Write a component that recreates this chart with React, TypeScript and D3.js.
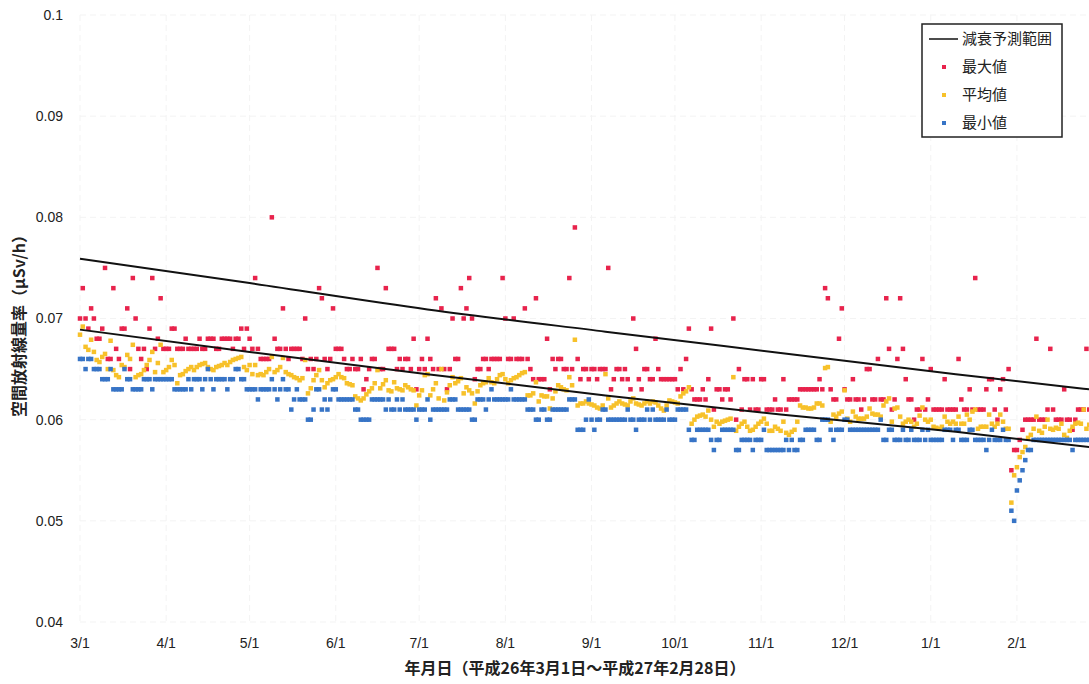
import React from "react";
import * as d3 from "d3";

// daily values, Mar 1 2014 .. Feb 28 2015 (max/min in 0.001 µSv/h, avg in 0.0001 µSv/h)
const MAX = [
  70,73,70,69,71,70,68,68,69,75, 66,66,73,67,66,69,69,71,65,74,
  70,67,66,67,65,69,74,67,68,72, 67,67,67,69,69,67,67,67,68,67,
  67,67,67,68,67,67,68,68,68,67, 67,68,68,68,68,67,68,68,69,67,
  69,68,67,74,67,66,66,66,66,80, 68,67,67,71,67,66,67,67,67,67,
  66,70,65,66,65,66,73,72,66,65, 66,71,67,67,67,66,65,65,66,65,
  65,66,63,64,65,66,66,75,65,65, 73,67,67,67,65,66,65,66,66,65,
  68,63,65,66,65,68,66,65,72,65, 71,65,63,65,70,66,66,73,70,71,
  74,70,64,65,65,66,66,65,66,66, 66,66,74,70,66,66,70,66,66,66,
  71,66,65,64,72,64,64,64,68,63, 66,65,66,66,65,65,74,65,79,66,
  64,65,65,64,65,65,64,65,65,65, 75,63,64,65,65,64,65,64,63,70,
  67,64,63,65,65,64,64,68,65,64, 64,64,64,64,64,63,65,63,66,69,
  63,62,62,62,63,62,64,69,61,63, 63,62,63,63,62,70,60,65,61,64,
  64,61,64,61,61,64,64,61,61,61, 62,61,61,64,61,62,62,62,62,63,
  63,63,63,63,63,63,64,63,73,72, 63,62,62,68,71,63,62,62,64,62,
  62,61,62,65,65,62,62,66,62,62, 72,67,61,62,66,72,67,64,62,62,
  60,61,61,66,61,62,65,61,61,61, 61,64,61,61,61,61,66,62,61,61,
  63,61,74,61,61,61,63,64,64,61, 60,63,64,61,65,55,57,57,58,59,
  60,60,60,60,68,60,60,60,61,67, 61,60,60,60,63,60,60,59,60,61,
  61,61,67,61,61,
];

const AVG = [
  684,692,672,669,679,667,659,657,662,665, 650,678,649,644,642,654,652,664,660,674,
  642,644,645,649,654,659,667,647,656,674, 647,649,652,659,654,636,644,645,648,650,
  652,649,652,654,655,656,652,650,649,652, 653,654,656,654,657,659,660,661,662,652,
  649,654,645,654,644,645,644,647,650,662, 647,649,652,661,647,645,644,642,641,639,
  641,659,626,631,639,644,649,639,632,636, 639,640,642,645,642,641,636,635,634,623,
  621,619,621,625,628,631,636,649,631,635, 639,629,628,637,631,630,629,634,632,630,
  629,614,624,629,644,645,624,630,636,621, 650,619,627,634,642,636,638,641,626,632,
  629,626,616,628,634,636,637,641,637,636, 640,644,645,640,636,639,641,642,644,646,
  647,624,624,626,637,618,624,623,623,611, 621,628,634,632,630,629,642,634,679,614,
  616,616,618,616,615,614,612,611,614,645, 621,612,614,616,618,616,615,614,618,621,
  616,615,614,616,618,616,618,617,614,611, 609,614,619,618,617,616,623,626,628,632,
  596,600,603,604,605,603,609,600,593,598, 596,598,599,600,601,642,589,593,596,598,
  593,589,590,593,596,598,601,596,589,589, 593,591,589,598,587,585,588,590,598,614,
  612,612,611,611,612,616,616,614,651,652, 598,605,603,606,608,629,601,598,608,603,
  601,601,601,603,611,606,605,605,603,614, 618,621,598,611,612,603,596,598,600,598,
  593,596,604,612,600,598,600,593,592,591, 593,603,598,596,598,596,603,596,596,605,
  600,608,610,591,593,593,593,605,596,593, 596,605,598,591,591,518,545,553,563,568,
  573,582,585,591,603,589,587,593,600,591, 590,592,591,596,585,582,589,593,596,597,
  596,610,591,595,598,
];

const MIN = [
  66,66,65,66,66,65,65,65,64,64, 64,65,63,63,63,63,65,64,64,63,
  63,63,63,64,64,64,63,64,64,64, 64,64,64,64,63,63,63,63,63,64,
  63,64,64,64,63,64,65,64,63,64, 64,64,64,63,64,64,65,65,64,64,
  63,63,63,63,62,63,63,63,63,64, 63,62,63,64,63,63,61,62,63,62,
  62,62,60,60,61,63,63,61,62,61, 62,63,63,62,62,62,62,62,62,61,
  61,60,60,60,60,62,62,62,62,62, 61,62,61,61,62,61,62,61,61,61,
  61,60,61,61,61,62,60,61,61,61, 61,61,61,62,62,62,61,61,61,61,
  61,60,60,62,62,62,61,62,63,62, 62,62,62,62,62,63,62,62,62,62,
  62,61,61,61,60,60,61,61,60,60, 61,61,61,61,61,61,62,62,62,59,
  59,59,60,62,60,59,60,60,61,61, 60,60,60,60,60,60,60,61,60,60,
  59,60,60,60,61,60,61,60,60,60, 60,61,60,60,60,61,61,61,61,59,
  58,58,59,59,59,59,59,58,57,58, 58,59,59,59,59,59,57,57,58,58,
  58,58,57,58,58,58,59,57,57,57, 57,57,57,57,58,57,58,57,57,58,
  58,59,59,59,59,58,58,60,60,60, 59,58,59,59,59,60,60,59,59,59,
  59,59,59,59,59,59,59,59,60,58, 58,59,59,58,58,58,59,58,58,59,
  58,58,58,59,58,59,58,58,58,58, 58,59,59,59,58,59,59,58,58,58,
  59,59,58,58,58,58,57,58,59,58, 58,58,59,58,58,51,50,53,54,55,
  56,57,57,58,58,58,58,58,58,58, 58,58,58,58,58,58,58,57,58,58,
  58,58,58,58,58,
];

// decay prediction range (upper / lower), read at a few days
const DECAY_DAYS = [0, 61, 125, 189, 252, 315, 363];
const DECAY_UPPER = [0.0759, 0.0735, 0.0709, 0.0687, 0.0666, 0.0645, 0.063];
const DECAY_LOWER = [0.0689, 0.0667, 0.0645, 0.0624, 0.0605, 0.0588, 0.0573];

const Y_TICKS = [0.04, 0.05, 0.06, 0.07, 0.08, 0.09, 0.1];
const START = new Date(2014, 2, 1);
const END = new Date(2015, 1, 28);

const RED = "#e8234c";
const YELLOW = "#f7c12a";
const BLUE = "#3774c6";
const FONT = "'Liberation Sans', Arial, sans-serif";
const JP = "'Noto Sans CJK JP', sans-serif";

export default function App() {
  const width = 1089;
  const height = 684;

  const x = d3.scaleTime().domain([START, END]).range([80, 1092]);
  const y = d3.scaleLinear().domain([0.04, 0.1]).range([622, 15]);
  const dayDate = (i: number) => d3.timeDay.offset(START, i);
  const months = d3.timeMonth.range(START, END);
  const fmt = (d: Date) => `${d.getMonth() + 1}/${d.getDate()}`;

  const line = d3
    .line<number>()
    .x((_, i) => x(dayDate(DECAY_DAYS[i])))
    .y((v) => y(v))
    .curve(d3.curveMonotoneX);

  const sq = 4.5;
  const dots = (vals: number[], div: number, color: string, key: string) =>
    vals.map((v, i) => (
      <rect
        key={key + i}
        x={x(dayDate(i)) - sq / 2}
        y={y(v / div) - sq / 2}
        width={sq}
        height={sq}
        fill={color}
      />
    ));

  return (
    <svg
      width={width}
      height={height}
      style={{ position: "absolute", left: 0, top: 0, background: "#fff" }}
    >
      {/* faint grid */}
      <g stroke="#f3f3f3" strokeWidth={1} strokeDasharray="6 4">
        {Y_TICKS.map((t) => (
          <line key={"h" + t} x1={80} x2={1092} y1={y(t)} y2={y(t)} />
        ))}
        {months.map((m) => (
          <line key={"v" + m.getTime()} x1={x(m)} x2={x(m)} y1={15} y2={622} />
        ))}
      </g>

      {/* y tick labels */}
      <g fontFamily={FONT} fontSize={14} fill="#222" textAnchor="end">
        {Y_TICKS.map((t) => (
          <text key={t} x={63} y={y(t)} dy="0.35em">
            {String(t)}
          </text>
        ))}
      </g>

      {/* x tick labels */}
      <g fontFamily={FONT} fontSize={14} fill="#222" textAnchor="middle">
        {months.map((m) => (
          <text key={m.getTime()} x={x(m)} y={648}>
            {fmt(m)}
          </text>
        ))}
      </g>

      {dots(MAX, 1000, RED, "mx")}
      {dots(AVG, 10000, YELLOW, "av")}
      {dots(MIN, 1000, BLUE, "mn")}

      <path d={line(DECAY_UPPER) || ""} fill="none" stroke="#111" strokeWidth={2} />
      <path d={line(DECAY_LOWER) || ""} fill="none" stroke="#111" strokeWidth={2} />

      {/* axis titles */}
      <text
        transform="translate(25,322) rotate(-90)"
        textAnchor="middle"
        fontFamily={JP}
        fontWeight="bold"
        fontSize={16}
        fill="#222"
      >
        空間放射線量率（μSv/h）
      </text>
      <text
        x={575}
        y={674}
        textAnchor="middle"
        fontFamily={JP}
        fontWeight="bold"
        fontSize={16}
        fill="#222"
      >
        年月日（平成26年3月1日～平成27年2月28日）
      </text>

      {/* legend */}
      <g fontFamily={JP} fontSize={15} fill="#222">
        <rect x={922} y={24} width={140} height={113} fill="#fff" stroke="#222" strokeWidth={1.5} />
        <line x1={929} x2={958} y1={39} y2={39} stroke="#111" strokeWidth={1.5} />
        <text x={962} y={39} dy="0.35em">減衰予測範囲</text>
        {[
          { label: "最大値", color: RED, yy: 67 },
          { label: "平均値", color: YELLOW, yy: 95 },
          { label: "最小値", color: BLUE, yy: 123 },
        ].map((l) => (
          <g key={l.label}>
            <rect x={942} y={l.yy - 2} width={4} height={4} fill={l.color} />
            <text x={962} y={l.yy} dy="0.35em">{l.label}</text>
          </g>
        ))}
      </g>
    </svg>
  );
}
